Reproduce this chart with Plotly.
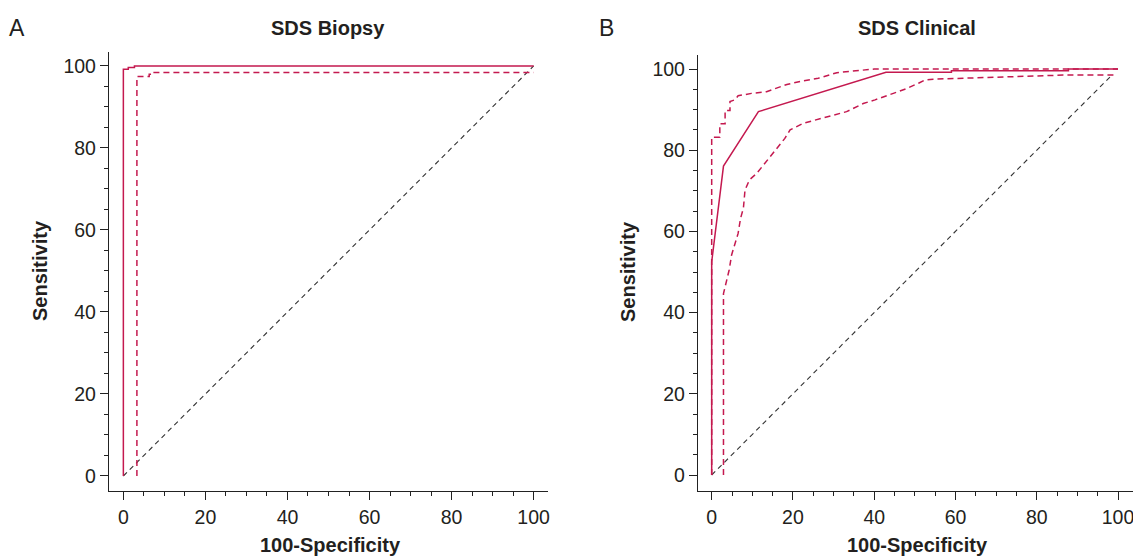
import plotly.graph_objects as go

# ---------------- data ----------------
# Panel A: SDS Biopsy
a_est_x = [0, 0, 1.2, 1.2, 2.7, 2.7, 100]
a_est_y = [0, 99.2, 99.2, 99.6, 99.6, 100, 100]
a_low_x = [3.3, 3.3, 6.3, 6.3, 7.5, 7.5, 100]
a_low_y = [0, 97.4, 97.4, 98.0, 98.0, 98.4, 98.4]
a_ref_x = [0, 100]
a_ref_y = [0, 100]

# Panel B: SDS Clinical
b_est_x = [0, 0, 2.9, 11.5, 42.9, 59, 59, 87.8, 87.8, 100]
b_est_y = [0, 52.5, 76.1, 89.5, 99.2, 99.2, 99.6, 99.6, 100, 100]
b_up_x = [0, 0, 2.0, 2.0, 3.3, 3.3, 4.5, 4.5, 5.7, 6.5, 9.8, 13.5, 15.1, 18.5, 22.5, 26.2, 30.8, 37.3, 40, 100]
b_up_y = [0, 83.2, 83.2, 86.5, 86.5, 89.8, 89.8, 92.0, 92.4, 93.4, 94.0, 94.4, 95.0, 96.2, 97.1, 97.7, 99.1, 99.75, 100, 100]
b_low_x = [2.9, 2.9, 3.7, 4.3, 4.9, 5.7, 6.5, 7.1, 7.8, 8.2, 9.3, 11.1, 14.5, 18.0, 19.3, 20.9, 22.5,
           25.4, 29.9, 33.2, 37.3, 40.2, 44.7, 48, 50.9, 52.5, 54.5, 69.3, 84.9, 86.5, 99.3]
b_low_y = [0, 44.7, 48, 50.5, 54.2, 56.7, 59.5, 63.2, 65.7, 70.2, 72.7, 74.3, 78.5, 82.9, 85.0, 85.8, 86.6,
           87.4, 88.7, 89.5, 91.5, 92.4, 94.0, 95.2, 96.5, 97.3, 97.5, 97.9, 98.3, 98.5, 98.5]
b_ref_x = [0, 98.7]
b_ref_y = [0, 98.7]

tick_vals = [0, 20, 40, 60, 80, 100]
tick_text = ["0", "20", "40", "60", "80", "100"]

# ---------------- style ----------------
W, H = 1133, 556
CRIMSON = "#C4194F"
FONT = "Liberation Sans, Arial, Helvetica, sans-serif"
TXT = "#231F20"


def px(x):
    return x / W


def py(y):
    return 1 - y / H


fig = go.Figure()

line_est = dict(color=CRIMSON, width=1.5)
line_ci = dict(color=CRIMSON, width=1.5, dash="6px,4px")
line_ref = dict(color="#333333", width=1.1, dash="5px,4px")

fig.add_trace(go.Scatter(x=a_ref_x, y=a_ref_y, mode="lines", line=line_ref, xaxis="x", yaxis="y"))
fig.add_trace(go.Scatter(x=a_low_x, y=a_low_y, mode="lines", line=line_ci, xaxis="x", yaxis="y"))
fig.add_trace(go.Scatter(x=a_est_x, y=a_est_y, mode="lines", line=line_est, xaxis="x", yaxis="y"))

fig.add_trace(go.Scatter(x=b_ref_x, y=b_ref_y, mode="lines", line=line_ref, xaxis="x2", yaxis="y2"))
fig.add_trace(go.Scatter(x=b_up_x, y=b_up_y, mode="lines", line=line_ci, xaxis="x2", yaxis="y2"))
fig.add_trace(go.Scatter(x=b_low_x, y=b_low_y, mode="lines", line=line_ci, xaxis="x2", yaxis="y2"))
fig.add_trace(go.Scatter(x=b_est_x, y=b_est_y, mode="lines", line=line_est, xaxis="x2", yaxis="y2"))

axis_common = dict(
    showline=True, linecolor="#222", linewidth=1.3,
    showgrid=False, zeroline=False,
    ticks="outside", ticklen=8, tickwidth=1.2, tickcolor="#222",
    tickvals=tick_vals, ticktext=tick_text,
    tickfont=dict(family=FONT, size=19.5, color=TXT),
    minor=dict(tickvals=list(range(0, 101, 5)), ticks="outside", ticklen=4, tickwidth=1, tickcolor="#222"),
    automargin=False, fixedrange=True, ticklabeloverflow="allow",
)

fig.update_layout(
    width=W, height=H, autosize=False,
    margin=dict(l=0, r=0, t=0, b=0),
    paper_bgcolor="white", plot_bgcolor="white",
    showlegend=False,
    xaxis=dict(domain=[px(109), px(548)], range=[-3.5, 103.5], anchor="y", **axis_common),
    yaxis=dict(domain=[py(491), py(52)], range=[-3.66, 103.4], anchor="x", **axis_common),
    xaxis2=dict(domain=[px(698), px(1133)], range=[-3.37, 103.69], anchor="y2", **axis_common),
    yaxis2=dict(domain=[py(491), py(55)], range=[-3.94, 103.45], anchor="x2", **axis_common),
)

bold = dict(family=FONT, size=20, color=TXT)
ann = [
    dict(text="A", x=px(17), y=py(28), font=dict(family=FONT, size=23, color=TXT)),
    dict(text="B", x=px(606), y=py(28), font=dict(family=FONT, size=23, color=TXT)),
    dict(text="<b>SDS Biopsy</b>", x=px(328), y=py(28), font=bold),
    dict(text="<b>SDS Clinical</b>", x=px(917), y=py(28), font=bold),
    dict(text="<b>Sensitivity</b>", x=px(40), y=py(271), textangle=-90, font=bold),
    dict(text="<b>Sensitivity</b>", x=px(628), y=py(272), textangle=-90, font=bold),
    dict(text="<b>100-Specificity</b>", x=px(330), y=py(545), font=bold),
    dict(text="<b>100-Specificity</b>", x=px(917), y=py(545), font=bold),
]
for a in ann:
    a.update(xref="paper", yref="paper", showarrow=False, xanchor="center", yanchor="middle")
fig.update_layout(annotations=ann)

fig.write_html(
    "out.html",
    config={"displayModeBar": False},
    post_script="document.body.style.margin='0';document.body.style.overflow='hidden';",
)
